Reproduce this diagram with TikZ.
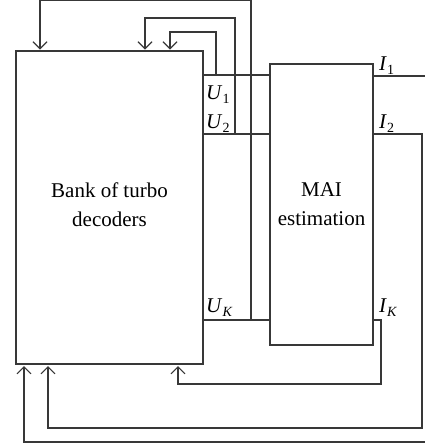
\documentclass[tikz,border=0pt]{standalone}
\usepackage{fontspec}
\setmainfont{Liberation Serif}
\usetikzlibrary{arrows.meta}
\newcommand{\mysub}[1]{\raisebox{-0.22em}{\fontsize{14}{14}\selectfont #1}}
\begin{document}
\begin{tikzpicture}[x=1pt,y=-1pt,
  wire/.style={draw=black!78, line width=1.1pt},
  fb/.style={wire, -{Straight Barb[length=7pt,width=14pt,line width=1.1pt]}},
  lbl/.style={font=\fontsize{21}{29}\selectfont, inner sep=0pt, anchor=base west},
  blk/.style={draw=black!78, line width=1.1pt, inner sep=0pt},
  txt/.style={align=center, font=\fontsize{21}{29}\selectfont, inner sep=0pt}]
\useasboundingbox (0,0) rectangle (425,448);
\clip (0,0) rectangle (425,448);
\node[blk, minimum width=187pt, minimum height=313pt] (dec) at (109.5,207.5) {};
\node[txt] (dectxt) at ([yshift=3pt]dec.center) {Bank of turbo\\decoders};
\node[blk, minimum width=103pt, minimum height=281pt] (mai) at (321.5,204.5) {};
\node[txt] (maitxt) at (mai.center) {MAI\\estimation};
% junctions on the U lines
\coordinate (j1) at (216,75);
\coordinate (j2) at (235,134);
\coordinate (jk) at (251,320);
% arrow ends on the decoder box
\coordinate (t1) at (170,49.5);
\coordinate (t2) at (145,49.5);
\coordinate (tk) at (40,49.5);
\coordinate (b1) at (24,366);
\coordinate (b2) at (48,366);
\coordinate (bk) at (178,366);
% output lines of MAI
\coordinate (o1) at (373,76);
\coordinate (o2) at (373,134);
\coordinate (ok) at (373,320);
% U lines
\draw[wire] (dec.east |- j1) -- (mai.west |- j1);
\draw[wire] (dec.east |- j2) -- (mai.west |- j2);
\draw[wire] (dec.east |- jk) -- (mai.west |- jk);
% feedback from U lines to decoder top
\draw[fb] (j1) -- (216,32) -| (t1);
\draw[fb] (j2) -- (235,18) -| (t2);
\draw[fb] (jk) -- (251,0.8) -| (tk);
% I outputs back to decoder bottom
\draw[fb] (mai.east |- o1) -- (432,76) -- (432,442) -| (b1);
\draw[fb] (mai.east |- o2) -- (422,134) -- (422,428) -| (b2);
\draw[fb] (mai.east |- ok) -- (381,320) -- (381,384) -| (bk);
% labels
\node[lbl] (lu1) at (206,99) {\textit{U}\mysub{1}};
\node[lbl] (lu2) at (206,128) {\textit{U}\mysub{2}};
\node[lbl] (luk) at (206,312) {\textit{U}\mysub{\textit{K}}};
\node[lbl] (li1) at (379,70) {\textit{I}\mysub{1}};
\node[lbl] (li2) at (379,128) {\textit{I}\mysub{2}};
\node[lbl] (lik) at (379,312) {\textit{I}\mysub{\textit{K}}};
\end{tikzpicture}
\end{document}
